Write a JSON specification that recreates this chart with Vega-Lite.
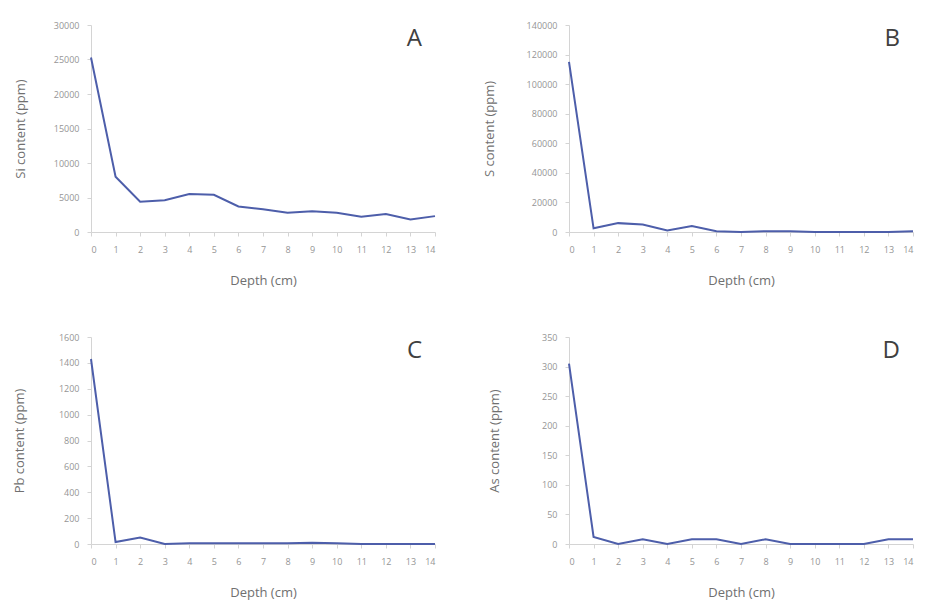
{
  "$schema": "https://vega.github.io/schema/vega-lite/v6.json",
  "background": "white",
  "padding": {"left": 13, "top": 21, "right": 5, "bottom": 5},
  "data": {"values": [
    {"depth": 0, "Si": 25300, "S": 115000, "Pb": 1430, "As": 305},
    {"depth": 1, "Si": 8000, "S": 2500, "Pb": 15, "As": 12},
    {"depth": 2, "Si": 4400, "S": 6000, "Pb": 50, "As": 0},
    {"depth": 3, "Si": 4600, "S": 5000, "Pb": 0, "As": 8},
    {"depth": 4, "Si": 5500, "S": 1000, "Pb": 5, "As": 0},
    {"depth": 5, "Si": 5400, "S": 4000, "Pb": 5, "As": 8},
    {"depth": 6, "Si": 3700, "S": 500, "Pb": 5, "As": 8},
    {"depth": 7, "Si": 3300, "S": 0, "Pb": 5, "As": 0},
    {"depth": 8, "Si": 2800, "S": 500, "Pb": 5, "As": 8},
    {"depth": 9, "Si": 3000, "S": 500, "Pb": 10, "As": 0},
    {"depth": 10, "Si": 2800, "S": 0, "Pb": 5, "As": 0},
    {"depth": 11, "Si": 2200, "S": 0, "Pb": 0, "As": 0},
    {"depth": 12, "Si": 2600, "S": 0, "Pb": 0, "As": 0},
    {"depth": 13, "Si": 1800, "S": 0, "Pb": 0, "As": 8},
    {"depth": 14, "Si": 2300, "S": 500, "Pb": 0, "As": 8}
  ]},
  "columns": 2,
  "bounds": "flush",
  "spacing": {"column": 134, "row": 105},
  "config": {
    "view": {"stroke": null},
    "font": "Open Sans",
    "axis": {
      "grid": false,
      "domainColor": "#d4d4d4",
      "tickColor": "#d4d4d4",
      "labelColor": "#959595",
      "titleColor": "#707070",
      "labelFontSize": 9,
      "titleFontSize": 13,
      "titleFontWeight": "normal",
      "tickSize": 4
    },
    "axisX": {"labelPadding": 9, "titlePadding": 20},
    "axisY": {"labelPadding": 8},
    "title": {"anchor": "end", "fontSize": 24, "fontWeight": "normal", "color": "#404040", "offset": -30, "dx": -17}
  },
  "concat": [
    {
      "title": "A",
      "width": 344, "height": 207,
      "mark": {"type": "line", "color": "#4d5eaa", "strokeWidth": 2},
      "encoding": {
        "x": {"field": "depth", "type": "quantitative", "scale": {"domain": [0, 14], "nice": false},
              "axis": {"values": [0,1,2,3,4,5,6,7,8,9,10,11,12,13,14], "title": "Depth (cm)"}},
        "y": {"field": "Si", "type": "quantitative", "scale": {"domain": [0, 30000], "nice": false},
              "axis": {"values": [0,5000,10000,15000,20000,25000,30000], "format": "d", "title": "Si content (ppm)", "titlePadding": 26}}
      }
    },
    {
      "title": "B",
      "width": 344, "height": 207,
      "mark": {"type": "line", "color": "#4d5eaa", "strokeWidth": 2},
      "encoding": {
        "x": {"field": "depth", "type": "quantitative", "scale": {"domain": [0, 14], "nice": false},
              "axis": {"values": [0,1,2,3,4,5,6,7,8,9,10,11,12,13,14], "title": "Depth (cm)"}},
        "y": {"field": "S", "type": "quantitative", "scale": {"domain": [0, 140000], "nice": false},
              "axis": {"values": [0,20000,40000,60000,80000,100000,120000,140000], "format": "d", "title": "S content (ppm)", "titlePadding": 30}}
      }
    },
    {
      "title": "C",
      "width": 344, "height": 207,
      "mark": {"type": "line", "color": "#4d5eaa", "strokeWidth": 2},
      "encoding": {
        "x": {"field": "depth", "type": "quantitative", "scale": {"domain": [0, 14], "nice": false},
              "axis": {"values": [0,1,2,3,4,5,6,7,8,9,10,11,12,13,14], "title": "Depth (cm)"}},
        "y": {"field": "Pb", "type": "quantitative", "scale": {"domain": [0, 1600], "nice": false},
              "axis": {"values": [0,200,400,600,800,1000,1200,1400,1600], "format": "d", "title": "Pb content (ppm)", "titlePadding": 32}}
      }
    },
    {
      "title": "D",
      "width": 344, "height": 207,
      "mark": {"type": "line", "color": "#4d5eaa", "strokeWidth": 2},
      "encoding": {
        "x": {"field": "depth", "type": "quantitative", "scale": {"domain": [0, 14], "nice": false},
              "axis": {"values": [0,1,2,3,4,5,6,7,8,9,10,11,12,13,14], "title": "Depth (cm)"}},
        "y": {"field": "As", "type": "quantitative", "scale": {"domain": [0, 350], "nice": false},
              "axis": {"values": [0,50,100,150,200,250,300,350], "format": "d", "title": "As content (ppm)", "titlePadding": 40}}
      }
    }
  ]
}
